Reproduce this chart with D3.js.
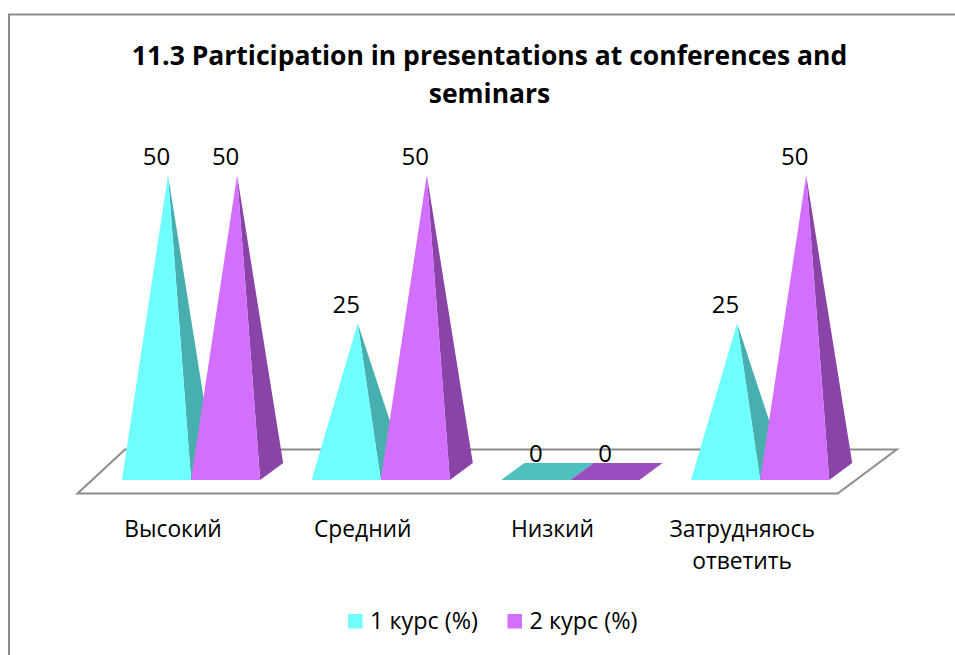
<!DOCTYPE html>
<html><head><meta charset="utf-8">
<script src="https://cdn.jsdelivr.net/npm/d3@7"></script>
<style>html,body{margin:0;background:#fff}svg{display:block}text{font-family:"Open Sans","Noto Sans",sans-serif;fill:#000}</style>
</head><body><svg id="c" width="955" height="655"></svg>
<script>
const categories = ["Высокий","Средний","Низкий","Затрудняюсь ответить"];
const seriesNames = ["1 курс (%)","2 курс (%)"];
const course1 = [50,25,0,25];
const course2 = [50,50,0,50];
const titleLines = ["11.3 Participation in presentations at conferences and","seminars"];
const frontColors = ["#70ffff","#d36fff"];
const sideColors = ["#48afaf","#8a44a8"];
const flatColors = ["#4fc0c0","#9a4dbf"];
const seriesValues = [course1, course2];

const svg = d3.select("#c");
const x0 = d3.scaleBand().domain(categories).range([96.2, 855]).paddingInner(0.2715).paddingOuter(0.1358);
const x1 = d3.scaleBand().domain([0,1]).range([0, x0.bandwidth()]);
const y = d3.scaleLinear().domain([0,50]).range([471.5,175]);
const baseY = 480, depthX = 23, depthY = 17;
const gray = "#8c8c8c";

svg.append("path").attr("d","M9,655V14.5H955").attr("fill","none").attr("stroke",gray).attr("stroke-width",2);

svg.append("path")
  .attr("d", d3.line()([[77.5,493.5],[125,449.5],[896.7,449.5],[837.7,493.5]])+"Z")
  .attr("fill","#fff").attr("stroke",gray).attr("stroke-width",2);

const tf = d3.line();
categories.forEach((cat,ci)=>{
  seriesValues.forEach((vals,si)=>{
    const v = vals[ci];
    const xl = x0(cat)+x1(si), xr = xl+x1.bandwidth();
    const g = svg.append("g");
    if(v===0){
      g.append("path").attr("d",tf([[xl,baseY],[xl+depthX,baseY-depthY],[xr+depthX,baseY-depthY],[xr,baseY]])+"Z").attr("fill",flatColors[si]);
    } else {
      const apex=[(xl+xr)/2+depthX/2, y(v)];
      g.append("path").attr("d",tf([[xr,baseY],[xr+depthX,baseY-depthY],apex])+"Z").attr("fill",sideColors[si]);
      g.append("path").attr("d",tf([[xl,baseY],[xr,baseY],apex])+"Z").attr("fill",frontColors[si]);
    }
    svg.append("text").attr("class","lab").attr("x",(xl+xr)/2).attr("y",y(v)-10).attr("text-anchor","middle").attr("font-size",24).text(v);
  });
});
svg.selectAll("text.lab").raise();

titleLines.forEach((t,i)=>svg.append("text").attr("x",489.5).attr("y",65+i*38).attr("text-anchor","middle").attr("font-weight",700).attr("font-size",26.5).text(t));

categories.forEach(cat=>{
  const cx=x0(cat)+x0.bandwidth()/2-18;
  const words = cat.split(" ");
  words.forEach((w,i)=>svg.append("text").attr("x",cx).attr("y",537+i*32).attr("text-anchor","middle").attr("font-size",22.8).text(w));
});

const legendX=[348,507.5];
seriesNames.forEach((n,i)=>{
  svg.append("rect").attr("x",legendX[i]).attr("y",614).attr("width",14.5).attr("height",14.5).attr("fill",frontColors[i]);
  svg.append("text").attr("x",legendX[i]+22).attr("y",629).attr("font-size",23.4).text(n);
});
</script></body></html>
